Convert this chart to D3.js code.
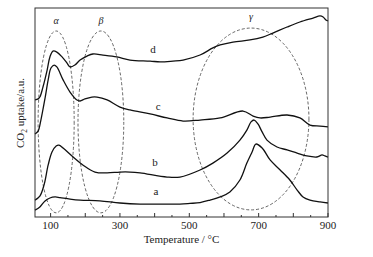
<!DOCTYPE html>
<html lang="en">
  <head>
    <meta charset="utf-8">
    <title>CO2 TPD</title>
    <script src="https://d3js.org/d3.v7.js"></script>
    <style>
      body { margin: 0; background: #fff; }
      text { font-family: "Liberation Serif", "DejaVu Serif", serif; fill: #222; }
    </style>
  </head>

  <body>

  <script>

// data (temperature in °C, uptake in a.u.)

  var tempA = [55, 69, 84, 98, 113, 127, 156, 185, 242, 300, 358, 415, 473, 502, 531, 560, 589, 617, 646, 666, 681, 692, 710, 733, 762, 790, 811, 828, 848, 877, 900];
  var valA  = [3.3, 4.8, 7.7, 9.1, 9.6, 9.3, 8.6, 8.1, 7.7, 6.7, 6.2, 6.2, 6.2, 6.5, 6.9, 8.1, 9.6, 12.0, 17.7, 25.8, 31.1, 34.9, 33.0, 27.3, 22.5, 17.7, 12.9, 9.6, 8.1, 7.2, 6.7];

  var tempB = [55, 69, 81, 93, 104, 116, 124, 136, 165, 193, 228, 263, 300, 329, 358, 436, 473, 531, 568, 609, 646, 666, 678, 687, 698, 710, 724, 753, 782, 811, 839, 868, 883, 891, 900];
  var valB  = [8.1, 10.0, 15.3, 24.9, 31.1, 34.0, 34.4, 33.0, 28.7, 24.9, 21.5, 21.1, 21.5, 21.5, 21.1, 19.1, 19.1, 22.5, 25.8, 30.6, 36.8, 41.6, 45.5, 46.4, 44.5, 40.7, 36.8, 33.5, 32.1, 30.6, 29.2, 28.7, 29.7, 29.2, 28.7];

  var tempC = [55, 64, 72, 84, 93, 101, 110, 118, 136, 156, 176, 185, 199, 219, 234, 263, 300, 329, 387, 436, 482, 531, 589, 655, 684, 704, 733, 782, 819, 848, 877, 900];
  var valC  = [39.7, 41.1, 46.4, 56.9, 65.6, 71.3, 72.7, 71.8, 65.6, 59.8, 56.0, 55.5, 56.5, 57.4, 57.4, 56.0, 52.6, 51.2, 49.3, 47.4, 45.9, 46.4, 47.4, 50.7, 48.3, 47.4, 47.8, 48.8, 47.4, 44.0, 43.5, 43.1];

  var tempD = [55, 64, 69, 78, 90, 98, 107, 118, 133, 147, 156, 170, 185, 205, 222, 251, 291, 329, 387, 416, 453, 482, 531, 568, 589, 626, 675, 712, 741, 782, 819, 857, 877, 886, 894, 900];
  var valD  = [56.0, 56.5, 57.4, 62.2, 70.3, 76.6, 79.4, 78.9, 76.6, 73.7, 71.8, 72.7, 75.1, 77.0, 78.0, 77.5, 76.6, 75.1, 74.6, 74.2, 74.6, 75.1, 77.5, 80.9, 82.3, 83.7, 84.7, 86.1, 88.0, 90.9, 93.3, 95.2, 96.2, 95.7, 94.3, 93.8];

  var curveNames = ["a", "b", "c", "d"];
  var labelTemp  = [404, 401, 410, 395];
  var labelVal   = [11.5, 25.8, 52.6, 79.9];

  // dashed regions: name, centre temp, centre value, half width (°C), half height
  var regionNames = ["α", "β", "γ"];
  var regionTemp  = [116, 245, 678];
  var regionVal   = [45.5, 45.5, 46.9];
  var regionRx    = [52, 66, 167];
  var regionRy    = [43.5, 43.5, 43.5];
  var regionLabelVal = [93.3, 93.3, 95.2];

  var majorTicks = [100, 200, 300, 400, 500, 600, 700, 800, 900];
  var tickLabels = [100, 300, 500, 700, 900];
  var minorTicks = [150, 250, 350, 450, 550, 650, 750, 850];

  var w = 373;
  var h = 257;
  var mLeft = 35, mRight = 328, mTop = 8, mBottom = 217;

  var svg = d3.select("body")
    .append("svg")
      .attr("width", w)
      .attr("height", h);

  var xScale = d3.scaleLinear()
      .domain([55, 900])
      .range([mLeft, mRight]);

  var yScale = d3.scaleLinear()
      .domain([0, 100])
      .range([mBottom, mTop]);

  var line = d3.line()
      .x(d => xScale(d[0]))
      .y(d => yScale(d[1]))
      .curve(d3.curveCatmullRom.alpha(0.5));

  // dashed ellipses
  svg.selectAll("ellipse")
      .data(d3.range(regionNames.length))
      .enter().append("ellipse")
      .attr("cx", i => xScale(regionTemp[i]))
      .attr("cy", i => yScale(regionVal[i]))
      .attr("rx", i => xScale(regionTemp[i] + regionRx[i]) - xScale(regionTemp[i]))
      .attr("ry", i => yScale(0) - yScale(regionRy[i]))
      .attr("fill", "none")
      .attr("stroke", "#555")
      .attr("stroke-width", 0.9)
      .attr("stroke-dasharray", "3,2");

  svg.selectAll("text.region")
      .data(d3.range(regionNames.length))
      .enter().append("text")
      .attr("class", "region")
      .attr("x", i => xScale(regionTemp[i]))
      .attr("y", i => yScale(regionLabelVal[i]))
      .attr("text-anchor", "middle")
      .attr("dominant-baseline", "middle")
      .style("font-size", "10px")
      .style("font-style", "italic")
      .text(i => regionNames[i]);

  // curves
  var series = [
    d3.zip(tempA, valA),
    d3.zip(tempB, valB),
    d3.zip(tempC, valC),
    d3.zip(tempD, valD)
  ];

  svg.selectAll("path.curve")
      .data(series)
      .enter().append("path")
      .attr("class", "curve")
      .attr("d", line)
      .attr("fill", "none")
      .attr("stroke", "#111")
      .attr("stroke-width", 1.3);

  svg.selectAll("text.lab")
      .data(curveNames)
      .enter().append("text")
      .attr("class", "lab")
      .attr("x", (d, i) => xScale(labelTemp[i]))
      .attr("y", (d, i) => yScale(labelVal[i]))
      .attr("text-anchor", "middle")
      .attr("dominant-baseline", "middle")
      .style("font-size", "11px")
      .text(d => d);

  // frame
  svg.append("rect")
      .attr("x", mLeft)
      .attr("y", mTop)
      .attr("width", mRight - mLeft)
      .attr("height", mBottom - mTop)
      .attr("fill", "none")
      .attr("stroke", "#333")
      .attr("stroke-width", 1);

  // inward ticks on the bottom axis
  svg.selectAll("line.major")
      .data(majorTicks)
      .enter().append("line")
      .attr("x1", d => xScale(d))
      .attr("x2", d => xScale(d))
      .attr("y1", mBottom)
      .attr("y2", mBottom - 4)
      .attr("stroke", "#333");

  svg.selectAll("line.minor")
      .data(minorTicks)
      .enter().append("line")
      .attr("x1", d => xScale(d))
      .attr("x2", d => xScale(d))
      .attr("y1", mBottom)
      .attr("y2", mBottom - 2)
      .attr("stroke", "#333");

  svg.selectAll("text.tick")
      .data(tickLabels)
      .enter().append("text")
      .attr("class", "tick")
      .attr("x", d => xScale(d))
      .attr("y", mBottom + 12)
      .attr("text-anchor", "middle")
      .style("font-size", "11px")
      .text(d => d);

  svg.append("text")
      .attr("x", (mLeft + mRight) / 2)
      .attr("y", 243)
      .attr("text-anchor", "middle")
      .style("font-size", "11px")
      .text("Temperature / °C");

  var ylab = svg.append("text")
      .attr("transform", "translate(24,113) rotate(-90)")
      .attr("text-anchor", "middle")
      .style("font-size", "11px");
  ylab.append("tspan").text("CO");
  ylab.append("tspan").attr("dy", 3).style("font-size", "7.5px").text("2");
  ylab.append("tspan").attr("dy", -3).text(" uptake/a.u.");

    </script>

  </body>

</html>
